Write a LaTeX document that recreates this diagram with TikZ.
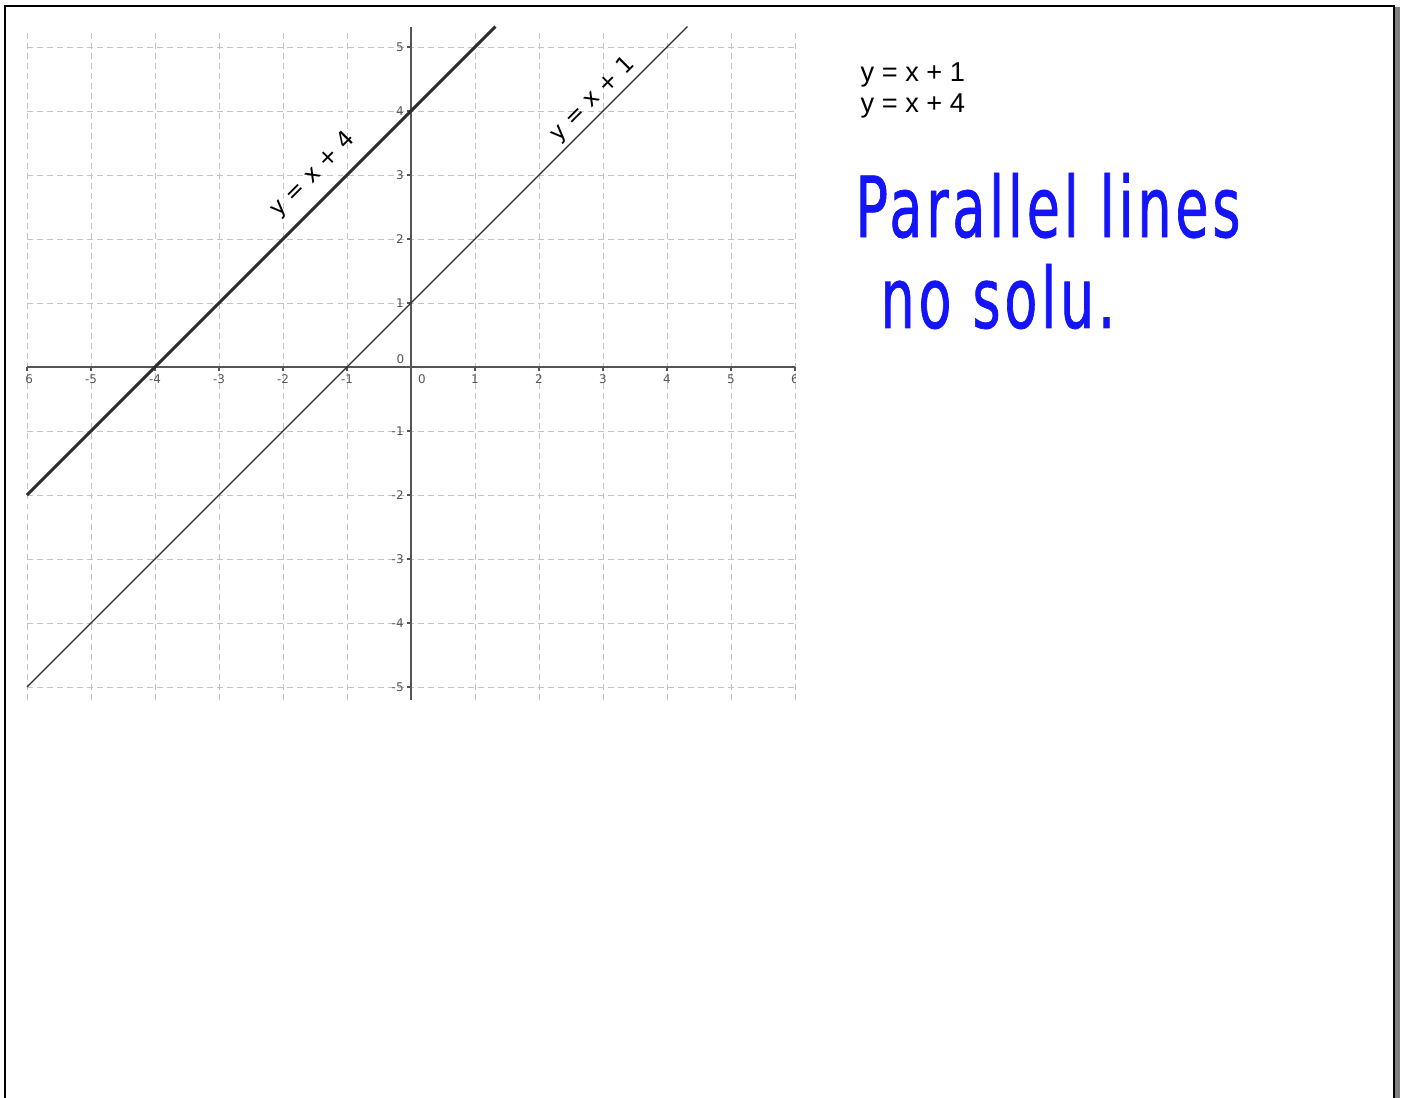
\documentclass[tikz,border=0pt]{standalone}
\usepackage{fontspec}
\setmainfont{DejaVu Sans}
\newfontfamily\eqfont{Liberation Sans}
\newfontfamily\handfont{DejaVu Sans}[FakeStretch=0.64,FakeBold=0.8,LetterSpace=4.5]
\usetikzlibrary{positioning}
\definecolor{gridgray}{RGB}{195,195,195}
\definecolor{axisgray}{RGB}{85,85,85}
\definecolor{linegray}{RGB}{45,45,45}
\definecolor{inkblue}{RGB}{20,20,250}

\begin{document}
\begin{tikzpicture}[x=1.28cm, y=1.28cm,
  gridline/.style={gridgray, line width=0.5pt, dash pattern=on 3.4pt off 2.3pt},
  axisline/.style={axisgray, line width=0.9pt},
  ticklbl/.style={font=\fontsize{6.8}{7}\selectfont, text=axisgray, inner sep=0pt},
  linelbl/.style={font=\fontsize{13}{13}\selectfont, rotate=45, inner sep=0pt},
  eqlbl/.style={font=\eqfont\fontsize{15.5}{17}\selectfont, inner sep=0pt, anchor=west},
  handink/.style={font=\handfont\fontsize{48}{50}\selectfont, text=inkblue, inner sep=0pt, anchor=base west}]
  \useasboundingbox (-6.4219,-11.4219) rectangle (15.4844,5.7344);
  % page frame
  \draw[gray, line width=2.6pt] (15.414,5.62) -- (15.414,-11.5);
  \draw[black, line width=1.6pt] (-6.344,-11.5) -- (-6.344,5.641) -- (15.36,5.641) -- (15.36,-11.5);
  % grid
  \foreach \x in {-6,...,6} \draw[gridline] (\x,-5.2) -- (\x,5.27);
  \foreach \y in {-5,...,5} \draw[gridline] (-6,\y) -- (6,\y);
  % axes
  \draw[axisline] (-6,0) -- (6,0);
  \draw[axisline] (0,-5.2) -- (0,5.31);
  \foreach \x in {-6,...,-1,1,2,...,6} \draw[axisline] (\x,0) -- (\x,-0.06);
  \foreach \y in {-5,...,-1,1,2,...,5} \draw[axisline] (0,\y) -- (-0.06,\y);
  \begin{scope}
    \clip (-6,-5.3) rectangle (6,5.35);
    \foreach \x in {-6,...,-1,1,2,...,6}
      \node[ticklbl, anchor=north] (xl\x) at (\x,-0.11) {\x};
    \foreach \y in {-5,...,-1,1,2,...,5}
      \node[ticklbl, anchor=east] (yl\y) at (-0.11,\y) {\y};
    \node[ticklbl, anchor=north] (xl0) at (0.17,-0.11) {0};
    \node[ticklbl, anchor=south east] (yl0) at (-0.1,0.05) {0};
  \end{scope}
  % the two lines
  \draw[linegray, line width=1.7pt] (-6,-2) -- (1.32,5.32);
  \draw[linegray, line width=0.8pt] (-6,-5) -- (4.32,5.32);
  \node[linelbl] (lbl4) at (-1.53,3.0) {y = x + 4};
  \node[linelbl] (lbl1) at (2.84,4.18) {y = x + 1};
  % equations
  \node[eqlbl] (eq1) at (7.02,4.56) {y = x + 1};
  \node[eqlbl] (eq2) at (7.02,4.08) {y = x + 4};
  % handwriting
  \node[handink] (par) at (6.94,2.03) {Parallel lines};
  \node[handink] (sol) at (7.33,0.61) {no solu.};
\end{tikzpicture}
\end{document}
